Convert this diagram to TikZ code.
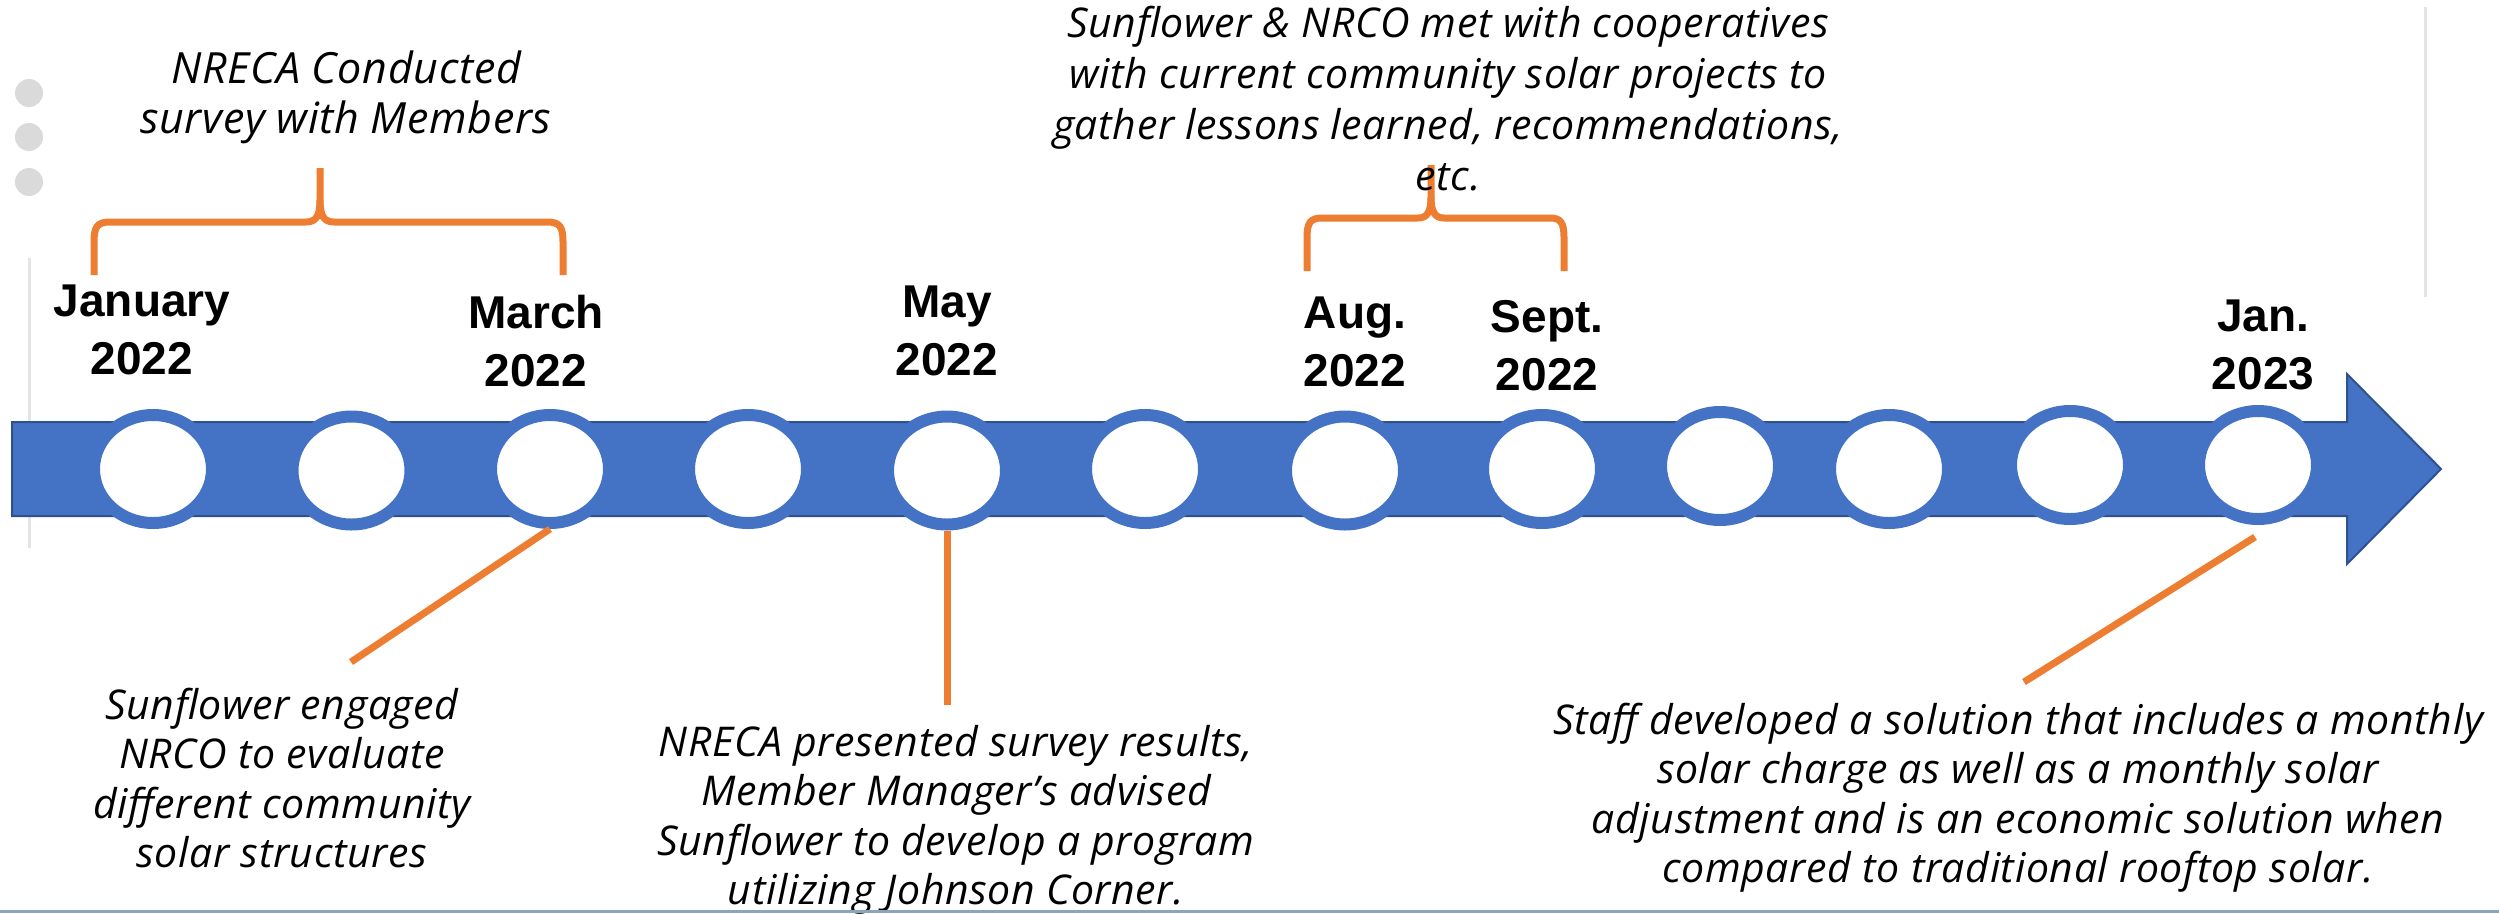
\documentclass[tikz,border=0pt]{standalone}
\usepackage{fontspec}
\usetikzlibrary{shapes.geometric,calc}
\newfontfamily\datefont{Liberation Sans}
\newfontfamily\notefont{Open Sans}[LetterSpace=1.5]
\definecolor{tlblue}{HTML}{4472C4}
\definecolor{tldark}{HTML}{2F528F}
\definecolor{tlorange}{HTML}{ED7D31}
\definecolor{tldot}{HTML}{DADADA}
\definecolor{tlrule}{HTML}{E4E4E4}
\definecolor{tlbottom}{HTML}{8AA6BC}
\newcommand{\mlines}[1]{\parbox[t]{1200pt}{\centering #1}}
\begin{document}
\begin{tikzpicture}[x=1pt,y=-1pt,
  datelbl/.style={anchor=base,inner sep=0pt,font={\datefont\bfseries\fontsize{46}{58}\selectfont}},
  notelbl/.style={anchor=base,inner sep=0pt,font={\notefont\itshape\fontsize{41}{49.5}\selectfont}},
  ring/.style={ellipse,draw=tlblue,line width=12pt,fill=white,minimum width=118pt,minimum height=108pt,inner sep=0pt},
  bracepath/.style={draw=tlorange,line width=7pt,line join=round},
  leader/.style={draw=tlorange,line width=7pt},
  ruleline/.style={draw=tlrule,line width=3pt},
  greydot/.style={fill=tldot}]
\useasboundingbox (0,0) rectangle (2499,913);
\fill[white] (0,0) rectangle (2499,913);

% side rules and dots
\draw[ruleline] (29,258) -- (29,548);
\draw[ruleline] (2425,7) -- (2425,297);
\fill[greydot] (29,93) circle[radius=14];
\fill[greydot] (29,137) circle[radius=14];
\fill[greydot] (29,182) circle[radius=14];

% arrow
\filldraw[fill=tlblue,draw=tldark,line width=2pt,line join=miter]
  (12,422) -- (2347,422) -- (2347,374) -- (2441,469) -- (2347,564) -- (2347,516) -- (12,516) -- cycle;

% circles
\node[ring] (c1) at (153,469) {};
\node[ring] (c2) at (351.5,470.5) {};
\node[ring] (c3) at (550,469) {};
\node[ring] (c4) at (748,469) {};
\node[ring] (c5) at (947,470.5) {};
\node[ring] (c6) at (1145,469) {};
\node[ring] (c7) at (1345,470.5) {};
\node[ring] (c8) at (1542,469) {};
\node[ring] (c9) at (1720,466) {};
\node[ring] (c10) at (1889,469) {};
\node[ring] (c11) at (2070,465) {};
\node[ring] (c12) at (2258,465) {};

% braces
\draw[bracepath] (94,275) -- (94,242) .. controls (94,227) and (97,222) .. (110,222)
  -- (306,222) .. controls (316,222) and (320,216) .. (320,200) -- (320,168);
\draw[bracepath] (320,200) .. controls (320,216) and (324,222) .. (334,222)
  -- (547,222) .. controls (560,222) and (563,227) .. (563,242) -- (563,275);
\draw[bracepath] (1307,271) -- (1307,238) .. controls (1307,223) and (1310,218) .. (1322,218)
  -- (1418,218) .. controls (1427,218) and (1431,212) .. (1431,197) -- (1431,165);
\draw[bracepath] (1431,197) .. controls (1431,212) and (1435,218) .. (1444,218)
  -- (1550,218) .. controls (1561,218) and (1564,223) .. (1564,238) -- (1564,271);

% leader lines
\coordinate (e1) at (351,662);
\coordinate (e2) at (947,705);
\coordinate (e3) at (2024,682);
\draw[leader] (c3.south) -- (e1);
\draw[leader] (c5.south) -- (e2);
\draw[leader] ($(c12.south)+(-3,12)$) -- (e3);

% date labels
\node[datelbl] (d1) at (142,316) {\mlines{January\\2022}};
\node[datelbl] (d2) at (536,328) {\mlines{March\\2022}};
\node[datelbl] (d3) at (947,317) {\mlines{May\\2022}};
\node[datelbl] (d4) at (1355,328) {\mlines{Aug.\\2022}};
\node[datelbl] (d5) at (1547,332) {\mlines{Sept.\\2022}};
\node[datelbl] (d6) at (2263,331) {\mlines{Jan.\\2023}};

% notes
\node[notelbl,font={\notefont\itshape\fontsize{43}{50}\selectfont}] (n1) at (346,83)
  {\mlines{NRECA Conducted\\survey with Members}};
\node[notelbl,font={\notefont\itshape\fontsize{41}{51}\selectfont}] (n2) at (1448,37)
  {\mlines{Sunflower \& NRCO met with cooperatives\\with current community solar projects to\\gather lessons learned, recommendations,\\etc.}};
\node[notelbl] (n3) at (282,719)
  {\mlines{Sunflower engaged\\NRCO to evaluate\\different community\\solar structures}};
\node[notelbl] (n4) at (956,756)
  {\mlines{NRECA presented survey results,\\Member Manager’s advised\\Sunflower to develop a program\\utilizing Johnson Corner.}};
\node[notelbl] (n5) at (2018,734)
  {\mlines{Staff developed a solution that includes a monthly\\solar charge as well as a monthly solar\\adjustment and is an economic solution when\\compared to traditional rooftop solar.}};

% bottom rule
\draw[draw=tlbottom,line width=3pt] (0,911.5) -- (2499,911.5);
\end{tikzpicture}
\end{document}
